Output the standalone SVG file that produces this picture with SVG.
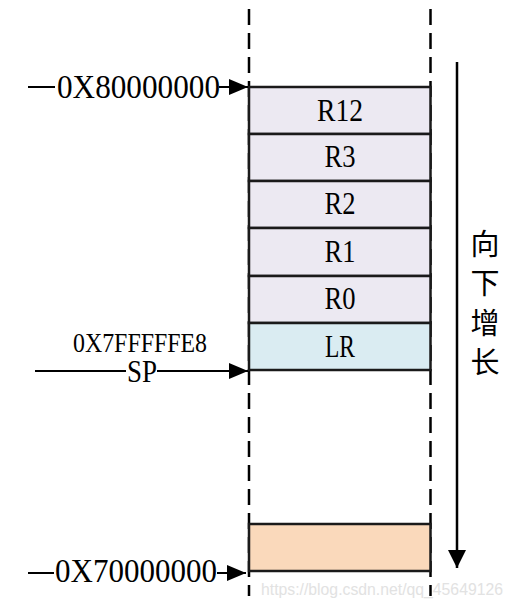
<svg xmlns="http://www.w3.org/2000/svg" width="513" height="609" viewBox="0 0 513 609">
<defs>
<marker id="ah" markerWidth="20" markerHeight="16" refX="19" refY="8" markerUnits="userSpaceOnUse" orient="auto">
<path d="M0,0 L19,8 L0,16 Z" fill="#000"/>
</marker>
<marker id="ahd" markerWidth="20" markerHeight="20" refX="18" refY="9" markerUnits="userSpaceOnUse" orient="auto">
<path d="M0,0 L18,9 L0,18 Z" fill="#000"/>
</marker>
</defs>
<style>
.t{font-family:"Liberation Serif","Times New Roman",serif;fill:#000;}
.reg{font-size:32px;text-anchor:middle;}
.cell{stroke:#1a1a1a;stroke-width:2.5;}
.lav{fill:#ECE9F2;}
.dash{stroke:#000;stroke-width:2.5;stroke-dasharray:16,8;fill:none;}
.ln{stroke:#000;stroke-width:2;fill:none;}
.cjk{font-family:"Noto Sans CJK SC",sans-serif;font-size:29px;text-anchor:middle;fill:#000;}
</style>
<rect width="513" height="609" fill="#fff"/>
<g id="guides">
<line class="dash" x1="249" y1="9" x2="249" y2="596"/>
<line class="dash" x1="430.5" y1="9" x2="430.5" y2="596"/>
</g>
<g id="r12"><rect class="cell lav" x="249" y="87" width="181.5" height="47"/><text class="t reg" x="340" y="121" textLength="46" lengthAdjust="spacingAndGlyphs">R12</text></g>
<g id="r3"><rect class="cell lav" x="249" y="134" width="181.5" height="47"/><text class="t reg" x="340" y="167" textLength="31" lengthAdjust="spacingAndGlyphs">R3</text></g>
<g id="r2"><rect class="cell lav" x="249" y="181" width="181.5" height="47"/><text class="t reg" x="340" y="214" textLength="31" lengthAdjust="spacingAndGlyphs">R2</text></g>
<g id="r1"><rect class="cell lav" x="249" y="228" width="181.5" height="48"/><text class="t reg" x="340" y="262" textLength="31" lengthAdjust="spacingAndGlyphs">R1</text></g>
<g id="r0"><rect class="cell lav" x="249" y="276" width="181.5" height="47"/><text class="t reg" x="340" y="309" textLength="31" lengthAdjust="spacingAndGlyphs">R0</text></g>
<g id="lr"><rect class="cell" fill="#DAECF2" x="249" y="323" width="181.5" height="47"/><text class="t reg" x="340" y="357" textLength="30" lengthAdjust="spacingAndGlyphs">LR</text></g>
<g id="bottom"><rect class="cell" fill="#FAD9BB" x="249" y="524" width="181.5" height="47"/></g>
<g id="connectors">
<line class="ln" x1="28" y1="87" x2="55" y2="87"/>
<line class="ln" x1="219" y1="87" x2="248" y2="87" marker-end="url(#ah)"/>
<line class="ln" x1="35" y1="371" x2="126" y2="371"/>
<line class="ln" x1="157" y1="371" x2="248" y2="371" marker-end="url(#ah)"/>
<line class="ln" x1="28" y1="573" x2="54" y2="573"/>
<line class="ln" x1="217" y1="573" x2="246" y2="573" marker-end="url(#ah)"/>
<line x1="457" y1="62" x2="457" y2="568" stroke="#000" stroke-width="2.5" marker-end="url(#ahd)"/>
</g>
<g id="labels">
<text class="t" x="57" y="98" font-size="34" textLength="163" lengthAdjust="spacingAndGlyphs">0X80000000</text>
<text class="t" x="73" y="352" font-size="27" textLength="134" lengthAdjust="spacingAndGlyphs">0X7FFFFFE8</text>
<text class="t" x="127" y="382" font-size="32" textLength="30" lengthAdjust="spacingAndGlyphs">SP</text>
<text class="t" x="55" y="582" font-size="34" textLength="162" lengthAdjust="spacingAndGlyphs">0X70000000</text>
<text class="cjk" x="485" y="255">向</text>
<text class="cjk" x="485" y="294">下</text>
<text class="cjk" x="485" y="334">增</text>
<text class="cjk" x="485" y="373">长</text>
<text x="261" y="595" font-family="Liberation Sans, Arial, sans-serif" font-size="17" fill="#E2E2E2" textLength="242" lengthAdjust="spacingAndGlyphs">https://blog.csdn.net/qq_45649126</text>
</g>
</svg>
